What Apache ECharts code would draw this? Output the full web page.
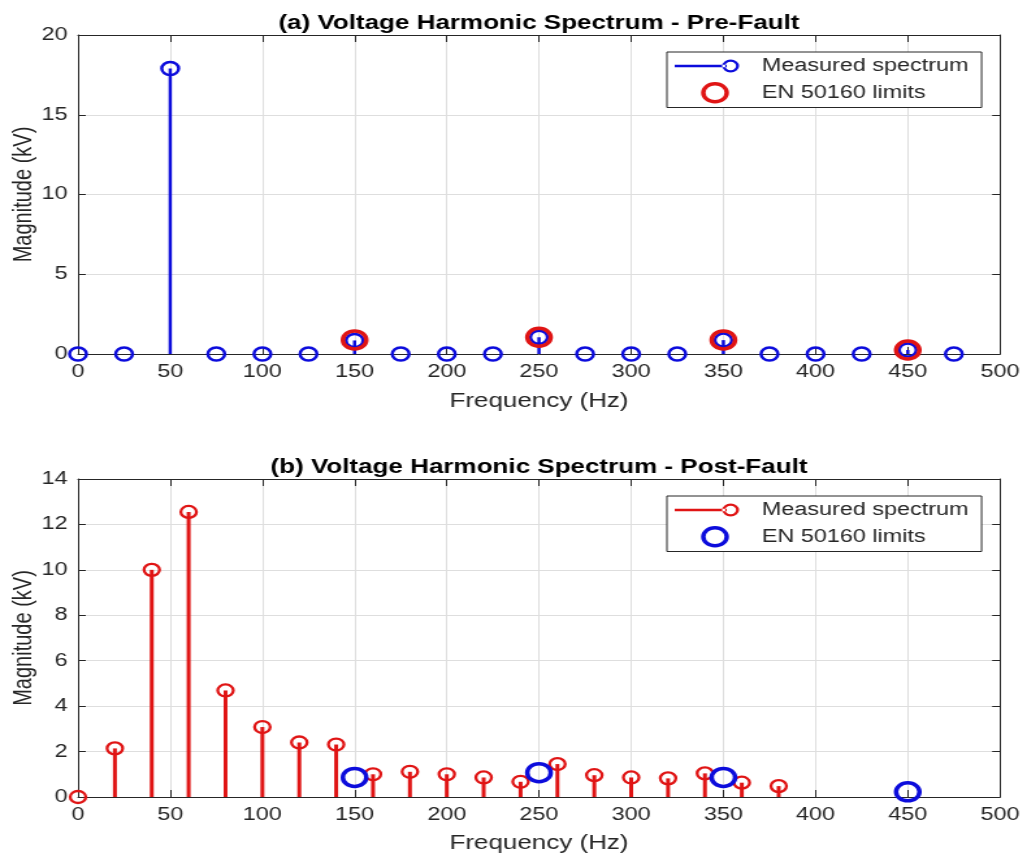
<!DOCTYPE html>
<html>
<head>
<meta charset="utf-8">
<title>Voltage Harmonic Spectrum</title>
<script src="https://cdn.jsdelivr.net/npm/echarts@6/dist/echarts.min.js"></script>
<style>
  html, body { margin: 0; padding: 0; background: #fff; overflow: hidden; }
  /* the figure is laid out narrow and widened horizontally */
  #chart { width: 788px; height: 856px; transform: scaleX(1.3); transform-origin: 0 0; }
</style>
</head>
<body>
<div id="chart"></div>
<script>
// ---- data ----
const preFreq = [0, 25, 50, 75, 100, 125, 150, 175, 200, 225, 250, 275, 300, 325, 350, 375, 400, 425, 450, 475];
const preMeasured = [0, 0, 17.9, 0, 0, 0, 0.85, 0, 0, 0, 1.05, 0, 0, 0, 0.87, 0, 0, 0, 0.25, 0];

const postFreq = [0, 20, 40, 60, 80, 100, 120, 140, 160, 180, 200, 220, 240, 260, 280, 300, 320, 340, 360, 380];
const postMeasured = [0, 2.14, 10.0, 12.55, 4.69, 3.08, 2.4, 2.31, 1.0, 1.11, 1.0, 0.86, 0.67, 1.45, 0.96, 0.86, 0.82, 1.04, 0.63, 0.48];

const limitFreq = [150, 250, 350, 450];
const preLimits = [0.88, 1.05, 0.88, 0.25];
const postLimits = [0.86, 1.07, 0.86, 0.23];

const titles = ['(a) Voltage Harmonic Spectrum - Pre-Fault', '(b) Voltage Harmonic Spectrum - Post-Fault'];
const xName = 'Frequency (Hz)';
const yName = 'Magnitude (kV)';
const measuredName = 'Measured spectrum';
const limitsName = 'EN 50160 limits';

// ---- style ----
const FONT = '"Liberation Sans", Arial, Helvetica, sans-serif';
const INK = '#262626';
const GRID_LINE = '#dedede';
const BLUE = '#0c0cdc';
const RED = '#e01414';

const pairs = (xs, ys) => xs.map((x, i) => [x, ys[i]]);

// legend icon: short line ending in an open circle (stem marker)
const STEM_ICON = 'path://M0 0M62 18' +
  'M0 7.8L40 7.8L40 10.2L0 10.2Z' +
  'M36.5 9A6.5 6.5 0 1 0 49.5 9A6.5 6.5 0 1 0 36.5 9Z' +
  'M38.8 9A4.2 4.2 0 1 1 47.2 9A4.2 4.2 0 1 1 38.8 9Z';

const panels = [
  { top: 35, height: 319, yMax: 20, yStep: 5, stem: BLUE, mark: RED, measured: pairs(preFreq, preMeasured), limits: pairs(limitFreq, preLimits),
    stemWidth: 2.5, mSize: 13, mBorder: 2.5, lSize: 18, lBorder: 3.5, titleTop: 8, legendTop: 52, nameGap: 37 },
  { top: 479, height: 318, yMax: 14, yStep: 2, stem: RED, mark: BLUE, measured: pairs(postFreq, postMeasured), limits: pairs(limitFreq, postLimits),
    stemWidth: 3, mSize: 12, mBorder: 2.3, lSize: 18, lBorder: 3.5, titleTop: 452, legendTop: 496, nameGap: 36 }
];

const PLOT_LEFT = 60;
const PLOT_RIGHT = 18.8;
const PLOT_CENTER = PLOT_LEFT + (788 - PLOT_LEFT - PLOT_RIGHT) / 2;

const grid = [], xAxis = [], yAxis = [], series = [], title = [], legend = [];

panels.forEach((p, g) => {
  grid.push({ left: PLOT_LEFT, right: PLOT_RIGHT, top: p.top, height: p.height, containLabel: false, outerBoundsMode: 'none' });

  const line = { onZero: false, lineStyle: { color: INK, width: 1 } };
  const tickX = { inside: true, length: 7, lineStyle: { color: INK, width: 1 } };
  const tickY = { inside: true, length: 6, lineStyle: { color: INK, width: 1 } };
  const label = { fontSize: 18, color: INK, fontFamily: FONT };

  xAxis.push({
    gridIndex: g, type: 'value', min: 0, max: 500, interval: 50, position: 'bottom',
    axisLine: line, axisTick: tickX, axisLabel: Object.assign({ margin: 9 }, label),
    splitLine: { show: true, lineStyle: { color: GRID_LINE, width: 1 } },
    name: xName, nameLocation: 'middle', nameGap: p.nameGap, nameMoveOverlap: false,
    nameTextStyle: { fontSize: 20, color: INK, fontFamily: FONT }
  });
  xAxis.push({
    gridIndex: g, type: 'value', min: 0, max: 500, interval: 50, position: 'top',
    axisLine: line, axisTick: tickX, axisLabel: { show: false }, splitLine: { show: false }
  });
  yAxis.push({
    gridIndex: g, type: 'value', min: 0, max: p.yMax, interval: p.yStep, position: 'left',
    axisLine: line, axisTick: tickY, axisLabel: Object.assign({ margin: 8 }, label),
    splitLine: { show: true, lineStyle: { color: GRID_LINE, width: 1 } },
    name: yName, nameLocation: 'middle', nameGap: 32, nameMoveOverlap: false,
    nameTextStyle: { fontSize: 20, color: INK, fontFamily: FONT }
  });
  yAxis.push({
    gridIndex: g, type: 'value', min: 0, max: p.yMax, interval: p.yStep, position: 'right',
    axisLine: line, axisTick: tickY, axisLabel: { show: false }, splitLine: { show: false }
  });

  const xi = 2 * g, yi = 2 * g;
  // stems
  series.push({
    type: 'bar', name: measuredName, xAxisIndex: xi, yAxisIndex: yi,
    data: p.measured, barWidth: p.stemWidth, silent: true, z: 2,
    itemStyle: { color: p.stem }
  });
  // stem heads
  series.push({
    type: 'scatter', name: measuredName, xAxisIndex: xi, yAxisIndex: yi,
    data: p.measured, symbol: 'circle', symbolSize: p.mSize, silent: true, z: 3,
    itemStyle: { color: 'rgba(0,0,0,0)', borderColor: p.stem, borderWidth: p.mBorder, opacity: 1 }
  });
  // limit markers
  series.push({
    type: 'scatter', name: limitsName, xAxisIndex: xi, yAxisIndex: yi,
    data: p.limits, symbol: 'circle', symbolSize: p.lSize, silent: true, z: 4,
    itemStyle: { color: 'rgba(0,0,0,0)', borderColor: p.mark, borderWidth: p.lBorder, opacity: 1 }
  });

  title.push({
    text: titles[g], left: PLOT_CENTER - 5, top: p.titleTop, textAlign: 'center',
    textStyle: { fontSize: 20, fontWeight: 'bold', color: '#000', fontFamily: FONT }
  });

  legend.push({
    orient: 'vertical', left: 513, top: p.legendTop,
    backgroundColor: '#fff', borderColor: INK, borderWidth: 1, borderRadius: 0,
    padding: [5, 10, 4, 6], itemGap: 7, itemWidth: 62, itemHeight: 18,
    selectedMode: false,
    textStyle: { fontSize: 18, color: INK, fontFamily: FONT },
    data: [
      { name: measuredName, icon: STEM_ICON, itemStyle: { color: p.stem, borderWidth: 0, opacity: 1 } },
      { name: limitsName, icon: 'circle', itemStyle: { color: 'rgba(0,0,0,0)', borderColor: p.mark, borderWidth: p.lBorder, opacity: 1 } }
    ]
  });
});

const chart = echarts.init(document.getElementById('chart'), null, { renderer: 'canvas' });
chart.setOption({
  animation: false,
  backgroundColor: '#fff',
  title, legend, grid, xAxis, yAxis, series
});
</script>
</body>
</html>
